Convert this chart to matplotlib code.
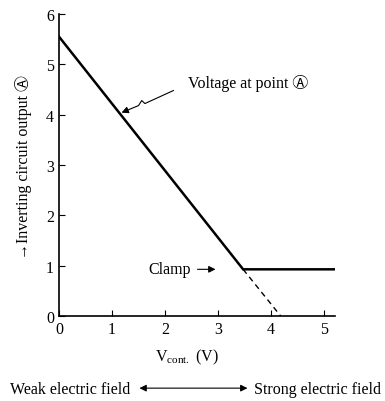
import matplotlib
matplotlib.use('Agg')
import matplotlib.pyplot as plt
from matplotlib.patches import FancyArrowPatch
from matplotlib.path import Path

# curve: straight drop, then clamped flat line
v_line = [0.0, 3.47, 5.2]
out_line = [5.55, 0.93, 0.93]
# unclamped continuation (dashed)
v_dash = [3.47, 4.18]
out_dash = [0.93, 0.0]

xticks = [0, 1, 2, 3, 4, 5]
yticks = [0, 1, 2, 3, 4, 5, 6]

plt.rcParams['font.family'] = ['Liberation Serif', 'Noto Sans CJK JP', 'DejaVu Sans']
plt.rcParams['font.size'] = 11

fig = plt.figure(figsize=(3.85, 4.02), dpi=100)
ax = fig.add_axes([0.153, 0.211, 0.717, 0.752])

ax.plot(v_line, out_line, color='black', linewidth=1.8, solid_joinstyle='miter')
ax.plot(v_dash, out_dash, color='black', linewidth=1.0, linestyle=(0, (4, 3)))

ax.set_xlim(0, 5.2)
ax.set_ylim(0, 6)
ax.set_xticks(xticks)
ax.set_yticks(yticks)
ax.tick_params(direction='in', length=4, width=0.8, labelsize=11.5)
ax.spines['top'].set_visible(False)
ax.spines['right'].set_visible(False)
ax.spines['left'].set_linewidth(1.2)
ax.spines['bottom'].set_linewidth(1.2)

ax.set_xlabel(r'V$_{\mathregular{cont.}}$ (V)', fontsize=11.5)
ax.xaxis.set_label_coords(0.465, -0.10)

fig.text(0.062, 0.585, '\u2192Inverting circuit output \u24b6', rotation=90,
         ha='center', va='center', fontsize=11.5)

# callout for the sloped line, with the little wiggle in the leader
ax.text(2.44, 4.64, 'Voltage at point \u24b6', fontsize=11.5, va='center', ha='left')
leader = Path([(2.16, 4.48), (1.62, 4.22), (1.56, 4.28), (1.5, 4.18),
               (1.18, 4.04)])
ax.add_patch(FancyArrowPatch(path=leader, arrowstyle='-|>', mutation_scale=10,
                             color='black', lw=0.8))

ax.annotate('Clamp', xy=(2.95, 0.93), xytext=(1.68, 0.93),
            fontsize=11.5, va='center', ha='left',
            arrowprops=dict(arrowstyle='-|>', color='black', lw=0.8,
                            mutation_scale=10, shrinkA=3, shrinkB=0))

fig.text(0.025, 0.03, 'Weak electric field', fontsize=11.5, ha='left', va='center')
fig.text(0.99, 0.03, 'Strong electric field', fontsize=11.5, ha='right', va='center')
fig.add_artist(FancyArrowPatch(
    (0.355, 0.032), (0.65, 0.032), transform=fig.transFigure,
    arrowstyle='<|-|>', mutation_scale=10, color='black', lw=0.8))

fig.savefig('out.png', dpi=100)
